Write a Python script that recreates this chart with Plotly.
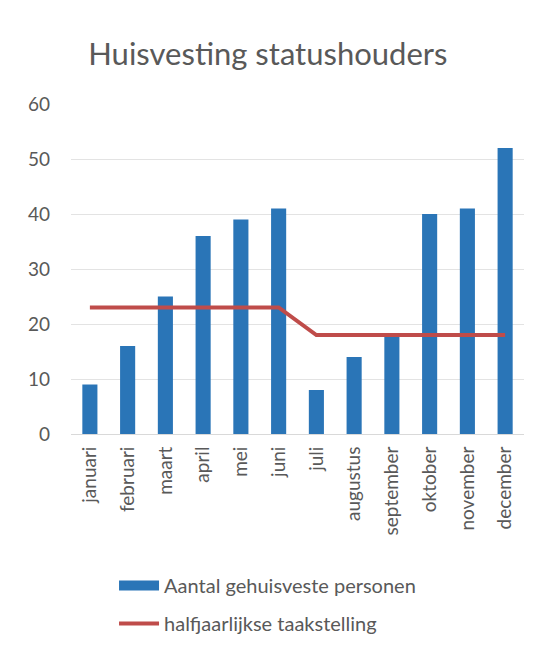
import plotly.graph_objects as go

months = ["januari", "februari", "maart", "april", "mei", "juni", "juli",
          "augustus", "september", "oktober", "november", "december"]
gehuisvest = [9, 16, 25, 36, 39, 41, 8, 14, 18, 40, 41, 52]
taakstelling = [23, 23, 23, 23, 23, 23, 18, 18, 18, 18, 18, 18]
y_ticks = [0, 10, 20, 30, 40, 50, 60]

FONT = "Lato"
GREY = "#595959"
BLUE = "#2a75b7"
RED = "#bf4c4a"

fig = go.Figure()
fig.add_trace(go.Bar(
    x=months, y=gehuisvest, name="Aantal gehuisveste personen",
    marker=dict(color=BLUE, line=dict(width=0)), width=0.4,
    showlegend=False, legendgroup="a",
))
# legend swatch for the bars (wide rectangle as in the original)
fig.add_trace(go.Scatter(
    x=[None], y=[None], name="Aantal gehuisveste personen",
    mode="lines", line=dict(color=BLUE, width=12), legendgroup="a",
))
fig.add_trace(go.Scatter(
    x=months, y=taakstelling, name="halfjaarlijkse taakstelling",
    mode="lines", line=dict(color=RED, width=4), legendgroup="b",
))

fig.update_layout(
    width=547, height=654,
    paper_bgcolor="white", plot_bgcolor="white",
    margin=dict(l=63, r=31, t=96, b=228),
    title=dict(text="Huisvesting statushouders", x=0.475, xanchor="center",
               y=0.93, yanchor="middle",
               font=dict(family=FONT, size=31, color=GREY)),
    font=dict(family=FONT, color=GREY),
    showlegend=True,
    legend=dict(orientation="v", x=0.095, xanchor="left", y=-0.40, yanchor="top",
                font=dict(family=FONT, size=20, color=GREY),
                itemwidth=40, tracegroupgap=9, bgcolor="rgba(0,0,0,0)"),
    bargap=0.6,
)
fig.update_xaxes(tickangle=-90, tickfont=dict(size=19, color=GREY),
                 showline=True, linecolor="#d9d9d9", linewidth=1, ticks="",
                 ticklabelstandoff=4)
fig.update_yaxes(range=[0, 60], tickvals=y_ticks, tickfont=dict(size=19, color=GREY),
                 showgrid=True, gridcolor="#e3e3e3", gridwidth=1, zeroline=False,
                 ticks="", ticklabelstandoff=20)

fig.write_html("out.html")
